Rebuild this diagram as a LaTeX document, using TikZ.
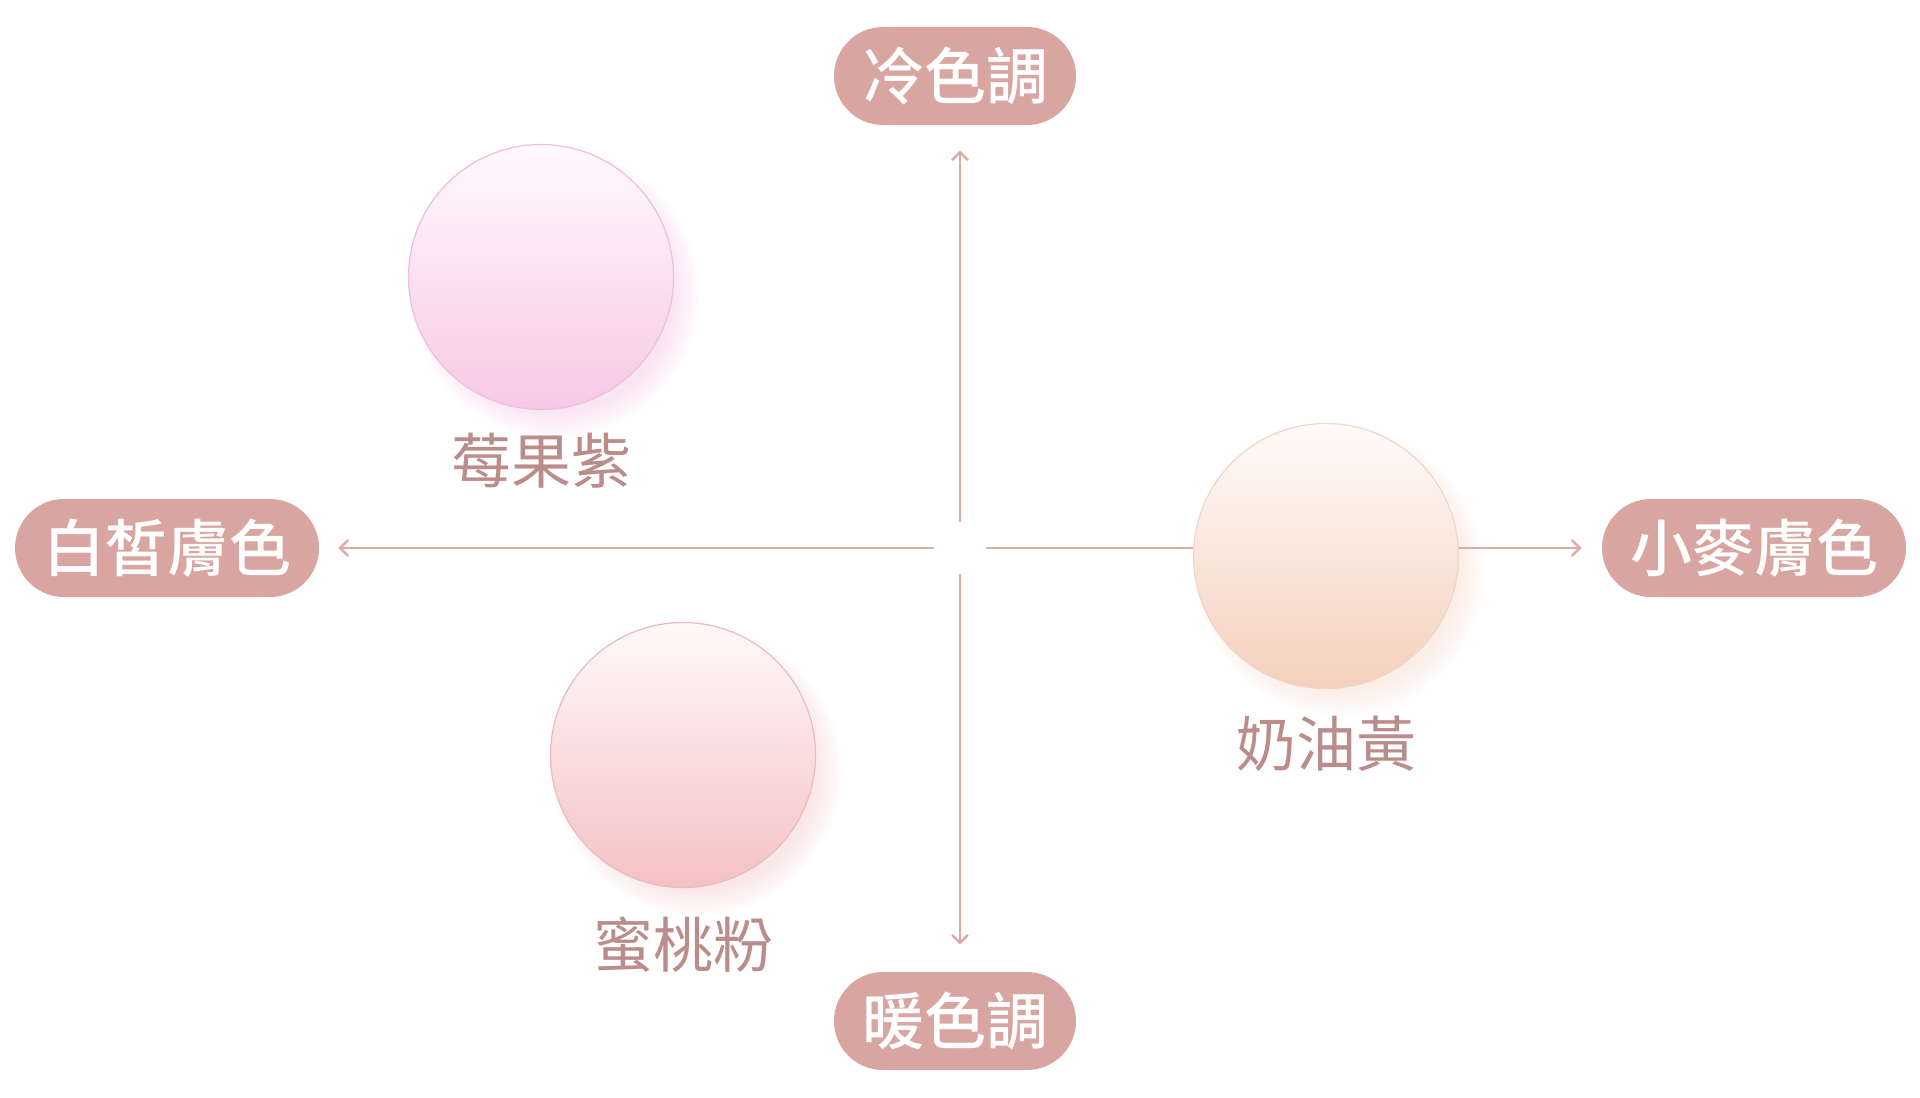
\documentclass[tikz,border=0pt]{standalone}
\usepackage{fontspec}
\setmainfont{Noto Sans CJK TC}
\newfontfamily\pillfont{Noto Sans CJK TC Medium}
\usetikzlibrary{arrows.meta,positioning,backgrounds}

\definecolor{pillrose}{HTML}{D9A5A1}
\definecolor{axisrose}{HTML}{DDAAA6}
\definecolor{tagbrown}{HTML}{BA8C8A}
\definecolor{berrytop}{HTML}{FFF9FD}
\definecolor{berrymid}{HTML}{FCE6F4}
\definecolor{berrybot}{HTML}{F7C8E6}
\definecolor{berryline}{HTML}{ECBFDA}
\definecolor{berryshade}{HTML}{F3C4E3}
\definecolor{creamtop}{HTML}{FFFBF8}
\definecolor{creammid}{HTML}{FCEEE6}
\definecolor{creambot}{HTML}{F4D0BD}
\definecolor{creamline}{HTML}{F0D6C9}
\definecolor{creamshade}{HTML}{F4D8C8}
\definecolor{peachtop}{HTML}{FFF9F9}
\definecolor{peachmid}{HTML}{FBE5E6}
\definecolor{peachbot}{HTML}{F4C1C3}
\definecolor{peachline}{HTML}{ECB9C2}
\definecolor{peachshade}{HTML}{F3C9CC}

\begin{document}
\begin{tikzpicture}[x=0.5pt,y=-0.5pt,
    pill/.style={fill=pillrose, text=white, font=\fontsize{31}{31}\selectfont\pillfont,
      rounded corners=24.5pt, minimum height=49pt, inner xsep=14pt, inner ysep=0pt},
    ball/.style={circle, minimum size=132.5pt, inner sep=0pt, line width=0.6pt},
    tag/.style={text=tagbrown, font=\fontsize{30}{30}\selectfont},
    axis/.style={draw=axisrose, line width=1.2pt, shorten <=13pt,
      -{Straight Barb[length=4pt,width=8pt]}}]
    \useasboundingbox (0,0) rectangle (1920,1097);
    \coordinate (o) at (960,548);
    \node[pill] (cold)  at (955,76)   {冷色調};
    \node[pill] (warm)  at (955,1021) {暖色調};
    \node[pill] (fair)  at (167,548)  {白皙膚色};
    \node[pill] (wheat) at (1754,548) {小麥膚色};
    \node[ball, draw=berryline, top color=berrytop, middle color=berrymid, bottom color=berrybot] (berry) at (541,277) {};
    \node[ball, draw=creamline, top color=creamtop, middle color=creammid, bottom color=creambot] (cream) at (1326,556) {};
    \node[ball, draw=peachline, top color=peachtop, middle color=peachmid, bottom color=peachbot] (peach) at (683,755) {};
    \node[tag, below=8pt of berry] (berrytag) {莓果紫};
    \node[tag, below=10pt of cream] (creamtag) {奶油黃};
    \node[tag, below=11pt of peach] (peachtag) {蜜桃粉};
    \begin{scope}[on background layer]
    \foreach \b/\c in {berry/berryshade, cream/creamshade, peach/peachshade}
      \foreach \r in {72,70,...,60}
        \fill[\c, opacity=0.08] ([shift={(14,16)}]\b.center) circle (\r pt);
    \draw[axis, shorten >=12.5pt] (o) -- (o |- cold.south);
    \draw[axis, shorten >=13.5pt] (o) -- (o |- warm.north);
    \draw[axis, shorten >=9.5pt] (o) -- (fair.east);
    \draw[axis, shorten >=10pt] (o) -- (wheat.west);
    \end{scope}
\end{tikzpicture}
\end{document}
